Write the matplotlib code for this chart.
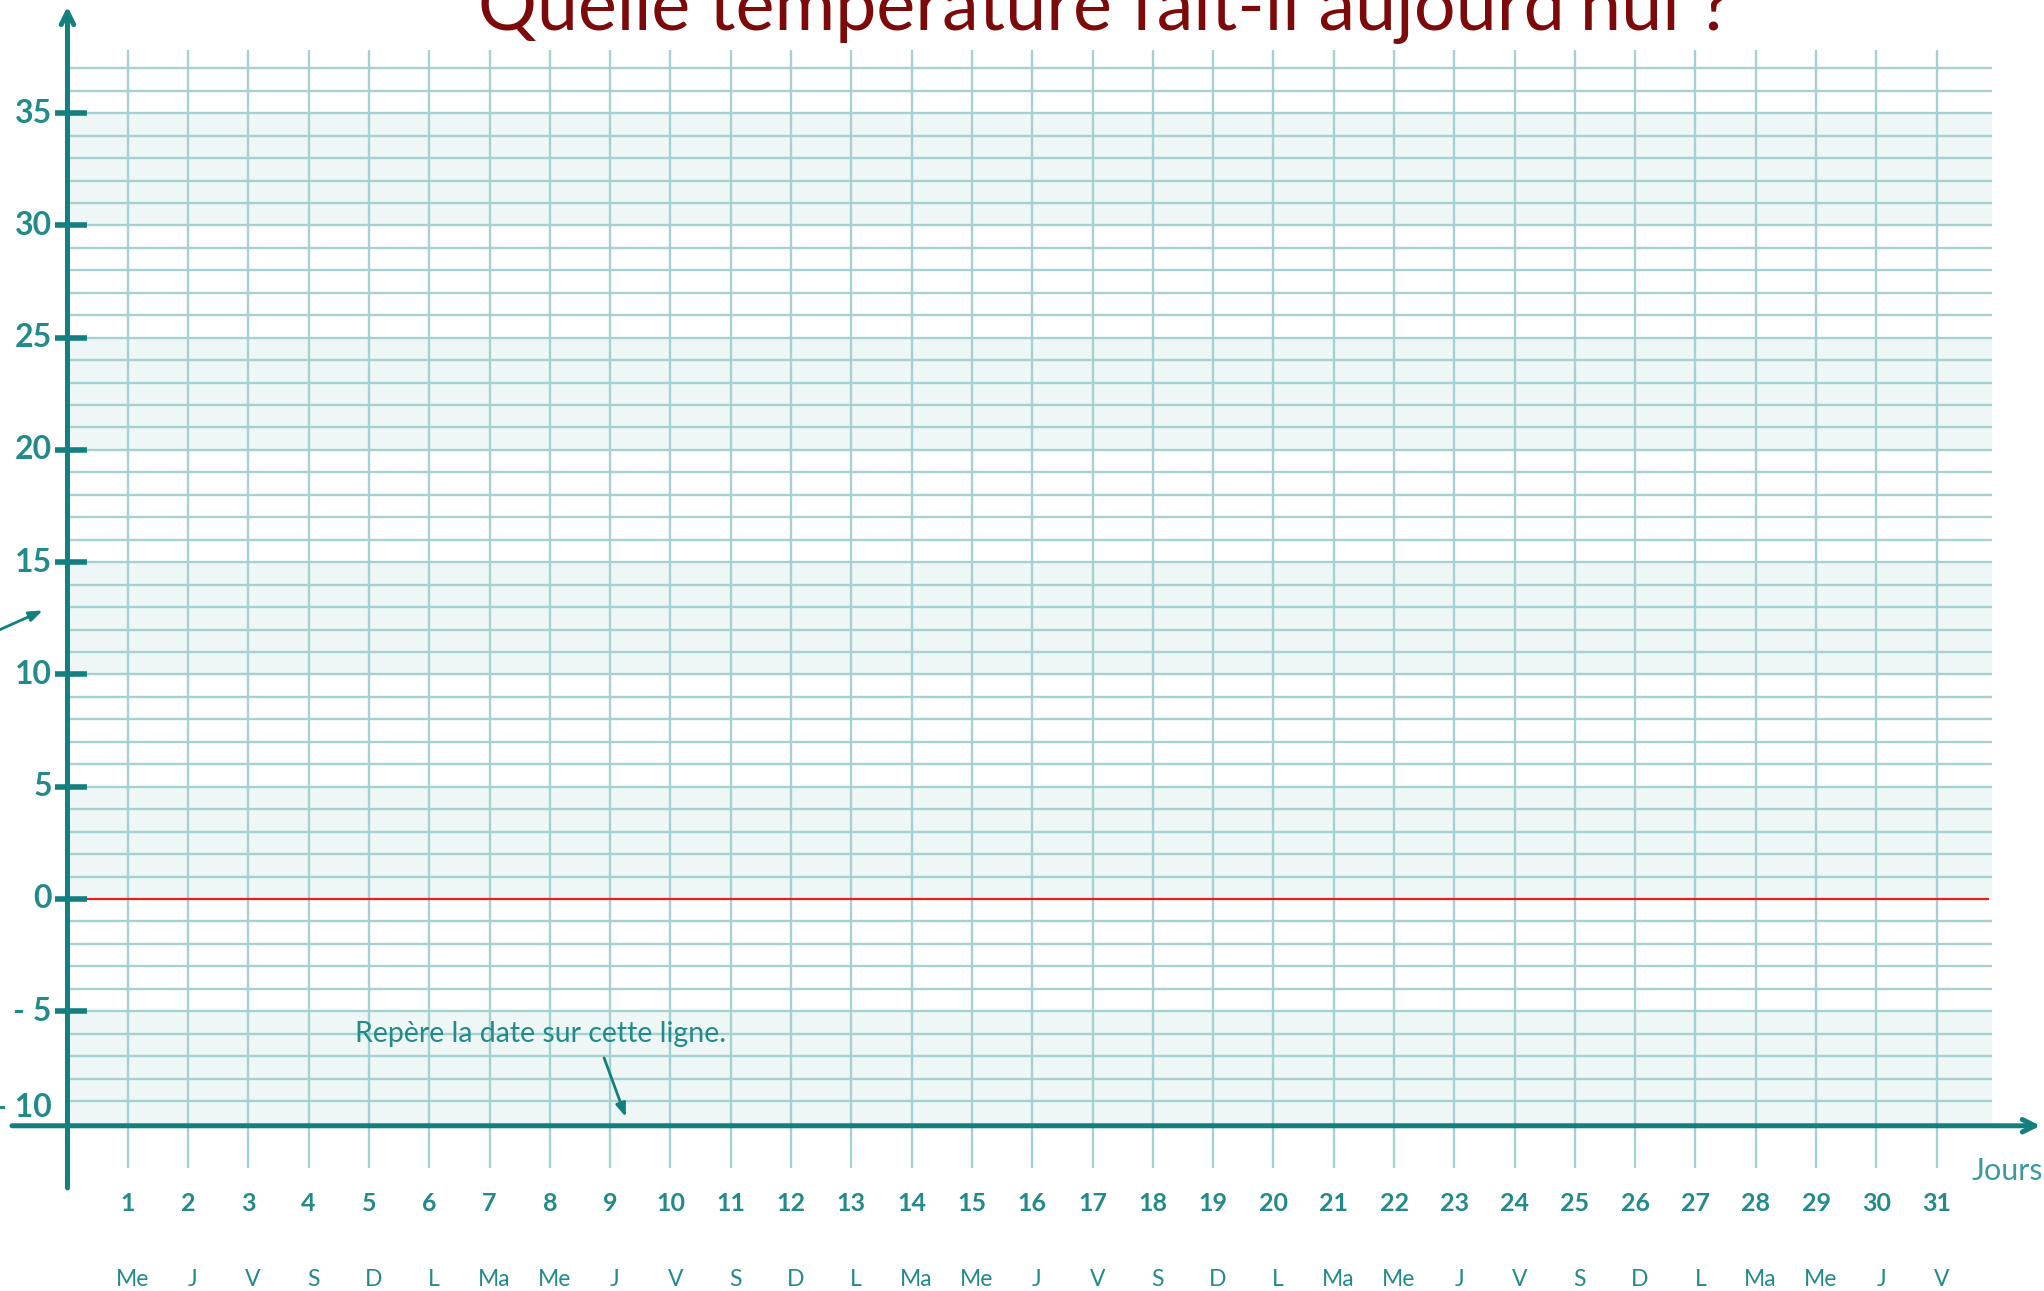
import numpy as np
import matplotlib
matplotlib.use('Agg')
import matplotlib.pyplot as plt

# jours du mois et initiales des jours de la semaine
jours = list(range(1, 32))
semaine = ["Me", "J", "V", "S", "D", "L", "Ma",
           "Me", "J", "V", "S", "D", "L", "Ma",
           "Me", "J", "V", "S", "D", "L", "Ma",
           "Me", "J", "V", "S", "D", "L", "Ma",
           "Me", "J", "V"]

# graduations de température
temp_ticks = [35, 30, 25, 20, 15, 10, 5, 0, -5, -10]
temp_labels = ["35", "30", "25", "20", "15", "10", "5", "0", "- 5", "- 10"]
grille_temp = list(range(-9, 38))
bandes = [(30, 35), (20, 25), (10, 15), (0, 5), (-10, -5)]

titre = "Quelle température fait-il aujourd'hui ?"
note = "Repère la date sur cette ligne."

teal = '#137f7f'
teal_txt = '#238a8a'
grille = '#a5d2d1'
fond = '#eef7f6'
rouge = '#ee1c1c'
bordeaux = '#7d0a0a'
polices = ['Lato', 'DejaVu Sans']

fig = plt.figure(figsize=(20.44, 12.91), dpi=100)
ax = fig.add_axes([0, 0, 1, 1])
ax.set_xlim(-1.119, 32.78)
ax.set_ylim(-17.46, 40.04)
ax.axis('off')

x_fin = 31.92

# bandes colorées
for lo, hi in bandes:
    ax.fill_between([0, x_fin], lo, hi, color=fond, lw=0, zorder=0)

# grille horizontale
for t in grille_temp:
    if t == 0:
        continue
    ax.plot([0, x_fin], [t, t], color=grille, lw=1.7, zorder=1, solid_capstyle='butt')

# grille verticale
for d in jours:
    ax.plot([d, d], [-12.0, 37.8], color=grille, lw=1.7, zorder=1, solid_capstyle='butt')

# ligne du zéro
ax.plot([0.1, 31.85], [0, 0], color=rouge, lw=1.6, zorder=3)

# axes avec flèches
ax.annotate('', xy=(0, 39.75), xytext=(0, -12.87),
            arrowprops=dict(arrowstyle='->,head_length=0.9,head_width=0.45',
                            color=teal, lw=3.6, shrinkA=0, shrinkB=0), zorder=4)
ax.annotate('', xy=(32.72, -10.1), xytext=(-0.92, -10.1),
            arrowprops=dict(arrowstyle='->,head_length=0.9,head_width=0.45',
                            color=teal, lw=3.6, shrinkA=0, shrinkB=0), zorder=4)

# graduations et étiquettes de l'axe vertical
for t, lab in zip(temp_ticks, temp_labels):
    if t != -10:
        ax.plot([-0.2, 0.33], [t, t], color=teal, lw=4, zorder=4, solid_capstyle='butt')
        ty = t
    else:
        ty = t + 0.7
    ax.text(-0.26, ty, lab, ha='right', va='center', color=teal_txt,
            fontsize=23, fontweight='bold', family=polices)

# étiquettes des jours
for d, s in zip(jours, semaine):
    ax.text(d, -13.55, str(d), ha='center', va='center', color=teal_txt,
            fontsize=18, fontweight='bold', family=polices)
    ax.text(d + 0.08, -16.95, s, ha='center', va='center', color=teal_txt,
            fontsize=16.5, fontweight='normal', family=polices)

ax.text(31.58, -12.1, "Jours", ha='left', va='center', color='#3d9a9a',
        fontsize=22, family=polices, clip_on=False)

# titre coupé en haut
ax.text(17.2, 38.7, titre, ha='center', va='baseline', color=bordeaux,
        fontsize=53, fontweight='normal', family=polices)

# consigne et flèches
ax.text(4.77, -6.0, note, ha='left', va='center', color=teal_txt,
        fontsize=20.5, fontweight='normal', family=polices)
ax.annotate('', xy=(9.26, -9.71), xytext=(8.9, -7.08),
            arrowprops=dict(arrowstyle='-|>,head_length=0.8,head_width=0.3',
                            color=teal, lw=2, shrinkA=0, shrinkB=0), zorder=5)
ax.annotate('', xy=(-0.41, 12.85), xytext=(-1.2, 11.9),
            arrowprops=dict(arrowstyle='-|>,head_length=0.8,head_width=0.3',
                            color=teal, lw=2, shrinkA=0, shrinkB=0), zorder=5)

fig.savefig('out.png', dpi=100, facecolor='white')
plt.close(fig)
